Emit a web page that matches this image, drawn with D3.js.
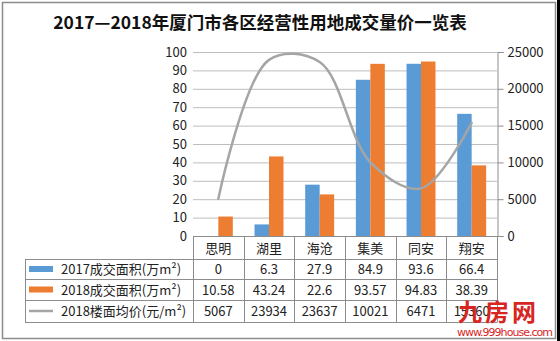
<!DOCTYPE html>
<html><head><meta charset="utf-8">
<script src="https://cdn.jsdelivr.net/npm/d3@7"></script>
<style>html,body{margin:0;padding:0;background:#fff;overflow:hidden}svg{display:block}</style>
</head><body>
<script>
const categories = ['思明','湖里','海沧','集美','同安','翔安'];
const area2017 = [0, 6.3, 27.9, 84.9, 93.6, 66.4];
const area2018 = [10.58, 43.24, 22.6, 93.57, 94.83, 38.39];
const price2018 = [5067, 23934, 23637, 10021, 6471, 15360];
const seriesNames = ['2017成交面积(万m²)', '2018成交面积(万m²)', '2018楼面均价(元/m²)'];
const leftTicks = [0,10,20,30,40,50,60,70,80,90,100];
const rightTicks = [0,5000,10000,15000,20000,25000];
const title = '2017—2018年厦门市各区经营性用地成交量价一览表';
const colors = ['#5B9BD5', '#ED7D31', '#A5A5A5'];

const W = 560, H = 341;
const font = '"Noto Sans CJK SC","Noto Sans",sans-serif';
const svg = d3.select('body').append('svg').attr('width', W).attr('height', H)
  .style('font-family', font);

svg.append('rect').attr('x',0).attr('y',0).attr('width',W).attr('height',H).attr('fill','#fff');
svg.append('rect').attr('x',557).attr('y',0).attr('width',3).attr('height',H).attr('fill','#000');
svg.append('rect').attr('x',2.5).attr('y',2.5).attr('width',553).attr('height',336)
  .attr('fill','none').attr('stroke','#8c8c8c').attr('stroke-width',1.5);

svg.append('text').attr('x',260).attr('y',29).attr('text-anchor','middle')
  .attr('font-size',17.5).attr('font-weight','bold').attr('fill','#111').text(title);

const x0 = 193, x1 = 497, yTop = 52, yBot = 236;
const x = d3.scaleBand().domain(categories).range([x0, x1]).padding(0);
const xs = d3.scaleBand().domain([0,1]).range([0, x.bandwidth()]).paddingInner(0).paddingOuter(0.75);
const y = d3.scaleLinear().domain([0,100]).range([yBot, yTop]);
const y2 = d3.scaleLinear().domain([0,25000]).range([yBot, yTop]);

// gridlines
svg.append('g').selectAll('line').data(leftTicks.filter(d=>d>0)).join('line')
  .attr('x1', x0).attr('x2', x1).attr('y1', d=>y(d)+0.5).attr('y2', d=>y(d)+0.5)
  .attr('stroke','#bdbdbd').attr('stroke-width',1);

// left axis
const gl = svg.append('g').attr('transform',`translate(${x0},0)`)
  .call(d3.axisLeft(y).tickValues(leftTicks).tickSize(0).tickPadding(6));
gl.select('.domain').remove();
gl.selectAll('text').attr('font-size',13).attr('fill','#222').style('font-family',font);

// right axis
const gr = svg.append('g').attr('transform',`translate(${x1+0.5},0)`)
  .call(d3.axisRight(y2).tickValues(rightTicks).tickFormat(d3.format('d')).tickSize(6).tickPadding(4));
gr.select('.domain').attr('stroke','#8c8c8c');
gr.selectAll('.tick line').attr('stroke','#8c8c8c');
gr.selectAll('text').attr('font-size',13).attr('fill','#222').style('font-family',font);

// bars
const bars = svg.append('g');
[area2017, area2018].forEach((arr, si) => {
  bars.selectAll('.b'+si).data(arr).join('rect').attr('class','b'+si)
    .attr('x', (d,i)=>x(categories[i]) + xs(si))
    .attr('width', xs.bandwidth())
    .attr('y', d=>y(d))
    .attr('height', d=>yBot - y(d))
    .attr('fill', colors[si]);
});

// line
const line = d3.line().x((d,i)=>x(categories[i]) + x.bandwidth()/2).y(d=>y2(d))
  .curve(d3.curveCatmullRom.alpha(0.5));
svg.append('path').datum(price2018).attr('d', line).attr('fill','none')
  .attr('stroke', colors[2]).attr('stroke-width', 2.5).attr('stroke-linecap','round');

// baseline axis
svg.append('line').attr('x1',x0).attr('x2',x1+0.5).attr('y1',yBot+0.5).attr('y2',yBot+0.5)
  .attr('stroke','#8c8c8c');

// data table
const rowY = [yBot, 259, 279, 300, 322];
const tL = 25;
const tg = svg.append('g').attr('stroke','#8c8c8c').attr('stroke-width',1);
for (let r = 1; r < rowY.length; r++) {
  tg.append('line').attr('x1', tL).attr('x2', x1).attr('y1', rowY[r]+0.5).attr('y2', rowY[r]+0.5);
}
tg.append('line').attr('x1', tL+0.5).attr('x2', tL+0.5).attr('y1', rowY[1]).attr('y2', rowY[4]+0.5);
const bounds = [x0].concat(categories.map(c=>x(c)+x.bandwidth()));
bounds.forEach(b => {
  tg.append('line').attr('x1', Math.round(b)+0.5).attr('x2', Math.round(b)+0.5)
    .attr('y1', rowY[0]).attr('y2', rowY[4]+0.5);
});
// header
svg.append('g').selectAll('text').data(categories).join('text')
  .attr('x', d=>x(d)+x.bandwidth()/2).attr('y', (rowY[0]+rowY[1])/2 + 5)
  .attr('text-anchor','middle').attr('font-size',13).attr('fill','#222').text(d=>d);
const rowsData = [area2017, area2018, price2018];
rowsData.forEach((arr, r) => {
  const cy = (rowY[r+1] + rowY[r+2]) / 2;
  svg.append('g').selectAll('text').data(arr).join('text')
    .attr('x', (d,i)=>x(categories[i]) + x.bandwidth()/2).attr('y', cy + 5)
    .attr('text-anchor','middle').attr('font-size',13).attr('fill','#222').text(d=>String(d));
  if (r < 2) {
    svg.append('rect').attr('x',29).attr('y',cy-3).attr('width',24).attr('height',6).attr('fill',colors[r]);
  } else {
    svg.append('line').attr('x1',29).attr('x2',53).attr('y1',cy).attr('y2',cy)
      .attr('stroke',colors[2]).attr('stroke-width',2.5);
  }
  svg.append('text').attr('x',61).attr('y',cy+5).attr('font-size',13).attr('fill','#222')
    .text(seriesNames[r]);
});

// watermark
svg.append('text').attr('x',458).attr('y',321).attr('font-size',24).attr('font-weight','bold')
  .attr('fill','#d7261f').attr('letter-spacing',3).text('九房网');
svg.append('text').attr('x',457).attr('y',336).attr('font-size',11).attr('fill','#d7261f')
  .style('font-family','"DejaVu Sans",sans-serif').attr('textLength',96).text('www.999house.com');
</script>
</body></html>
